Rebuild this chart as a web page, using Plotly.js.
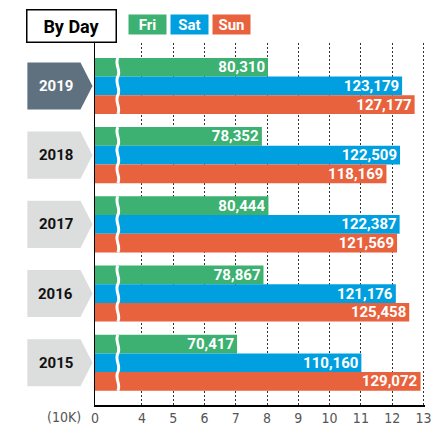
<!DOCTYPE html>
<html><head><meta charset="utf-8">
<script src="https://cdn.plot.ly/plotly-3.0.1.min.js"></script>
<style>html,body{margin:0;padding:0;background:#fff}#chart{width:431px;height:427px}</style>
</head><body><div id="chart"></div>
<script>
// ---- data ----
const years = ['2019', '2018', '2017', '2016', '2015'];
const fri = [80310, 78352, 80444, 78867, 70417];
const sat = [123179, 122509, 122387, 121176, 110160];
const sun = [127177, 118169, 121569, 125458, 129072];
const seriesNames = ['Fri', 'Sat', 'Sun'];
const tickLabels = ['0', '4', '5', '6', '7', '8', '9', '10', '11', '12', '13'];
const tickValues10k = [0, 4, 5, 6, 7, 8, 9, 10, 11, 12, 13];

// ---- broken axis: values from 0..4 (10K) compressed, break at 2.5 ----
const BREAK = 2.5;
const toAxis = v10k => v10k === 0 ? 0 : v10k - BREAK;
const colors = ['#3db172', '#009fdf', '#e9623e'];
const allSeries = [fri, sat, sun];
const fmt = v => v.toLocaleString('en-US');

const traces = allSeries.map((vals, i) => ({
  type: 'bar', orientation: 'h', name: seriesNames[i],
  y: years, x: vals.map(v => toAxis(v / 10000)),
  marker: {color: colors[i], line: {width: 0}},
  text: vals.map(fmt), textposition: 'inside', insidetextanchor: 'end',
  textangle: 0, constraintext: 'none',
  textfont: {family: 'Roboto, Arial, sans-serif', size: 15, color: '#fff', weight: 'bold'},
  hoverinfo: 'skip', cliponaxis: false
}));

const shapes = [];
const annotations = [];
// chevrons + year labels
years.forEach((yr, i) => {
  const h = 0.34;
  shapes.push({type: 'path', xref: 'paper', yref: 'y', layer: 'above',
    path: `M -0.2049,${i - h} L -0.0440,${i - h} L -0.0076,${i} L -0.0440,${i + h} L -0.2049,${i + h} Z`,
    fillcolor: i === 0 ? '#5f717e' : '#dcdddd', line: {width: 0}});
  annotations.push({xref: 'paper', yref: 'y', x: -0.119, y: i, text: yr, showarrow: false,
    xanchor: 'center', yanchor: 'middle',
    font: {family: 'Roboto, Arial, sans-serif', size: 15, weight: 'bold', color: i === 0 ? '#fff' : '#111'}});
  // wavy break across each group
  const top = i - 0.405, seg = 0.27, xc = 0.73, a = 0.11;
  let p = `M ${xc},${top}`;
  for (let k = 0; k < 3; k++) {
    const y0 = top + k * seg;
    p += ` C ${xc - a},${y0 + seg * 0.35} ${xc + a},${y0 + seg * 0.65} ${xc},${y0 + seg}`;
  }
  shapes.push({type: 'path', xref: 'x', yref: 'y', layer: 'above', path: p,
    line: {color: '#fff', width: 3}});
});

// title box
annotations.push({xref: 'paper', yref: 'paper', x: 0, y: 1, xanchor: 'center', yanchor: 'middle',
  xshift: -23.5, yshift: 17, text: 'By Day', showarrow: false, width: 86, height: 29,
  bordercolor: '#000', borderwidth: 1.5, bgcolor: '#fff',
  font: {family: 'Roboto, Arial, sans-serif', size: 18, weight: 'bold', color: '#000'}});
// legend boxes
const legX = [146.5, 188.5, 230.5];
seriesNames.forEach((n, i) => {
  annotations.push({xref: 'paper', yref: 'paper', x: 0, y: 1, xanchor: 'center', yanchor: 'middle',
    xshift: legX[i] - 94.5, yshift: 18.5, text: n, showarrow: false, width: 37, height: 19,
    bgcolor: colors[i], borderpad: 0,
    font: {family: 'Roboto, Arial, sans-serif', size: 15, weight: 'bold', color: '#fff'}});
});
// unit label
annotations.push({xref: 'paper', yref: 'paper', x: 0, y: 0, xanchor: 'center', yanchor: 'top',
  xshift: -31, yshift: -2, text: '(10K)', showarrow: false,
  font: {family: '"Liberation Sans Narrow", "DejaVu Sans Condensed", sans-serif', size: 14, color: '#555'}});

const layout = {
  width: 431, height: 427,
  margin: {l: 94.5, r: 5.5, t: 43, b: 22, pad: 0},
  paper_bgcolor: '#fff', plot_bgcolor: '#fff',
  barmode: 'group', bargap: 0.19, bargroupgap: 0,
  showlegend: false,
  xaxis: {range: [0, 10.55], tickmode: 'array', tickvals: tickValues10k.map(toAxis), ticktext: tickLabels,
    showgrid: true, gridcolor: '#333', gridwidth: 1, griddash: '2px,2px', zeroline: false,
    showline: true, linecolor: '#000', linewidth: 1.5, ticks: '', ticklabelstandoff: 0,
    ticklabeloverflow: 'allow',
    tickfont: {family: '"Liberation Sans Narrow", "DejaVu Sans Condensed", sans-serif', size: 14, color: '#555'},
    fixedrange: true},
  yaxis: {type: 'category', categoryarray: years, range: [4.61, -0.62], showticklabels: false,
    showgrid: false, zeroline: false, showline: true, linecolor: '#000', linewidth: 1.5, ticks: '',
    fixedrange: true},
  shapes: shapes, annotations: annotations
};
Plotly.newPlot('chart', traces, layout, {displayModeBar: false, staticPlot: true});
</script></body></html>
